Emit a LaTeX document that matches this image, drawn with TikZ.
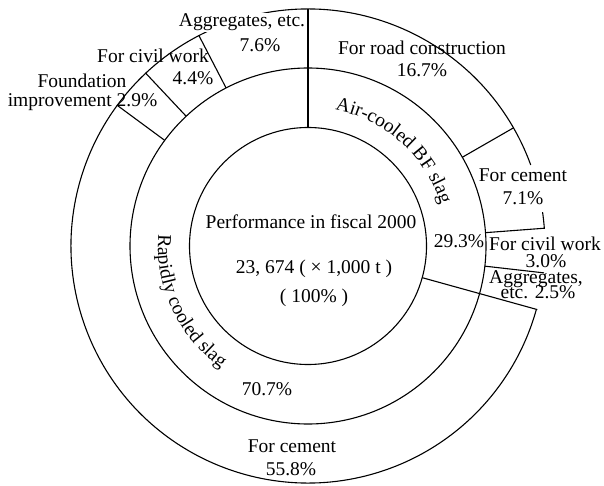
\documentclass[tikz,border=0pt]{standalone}
\usepackage{fontspec}
\setmainfont{Liberation Serif}
\usetikzlibrary{decorations.text}
\newcommand\lblfont{\fontsize{19.5}{22}\selectfont}
\begin{document}
\begin{tikzpicture}[x=1pt,y=1pt,line width=1.1pt,
  lbl/.style={font=\lblfont,inner sep=0pt,anchor=base},
  arcline/.style={line width=1.1pt}]
\useasboundingbox (0,0) rectangle (604,485);
\coordinate (C) at (308,239);
\begin{scope}[shift={(C)}]
  \draw[arcline] (0,0) circle[radius=118.5pt];
  \draw[arcline] (0,0) circle[radius=178pt];
  \draw[arcline] (20:237pt) arc[start angle=20,end angle=344.5,radius=237pt];
  \draw[arcline] (4.3:237pt) arc[start angle=4.3,end angle=8.2,radius=237pt];
  \draw[arcline] (90:118.5pt) -- (90:237pt);
  \draw[arcline] (-15.5:118.5pt) -- (-15.5:238pt);
  \foreach \a in {29.9,4.3,-6.5,143.6,133.2,117.4}
    \draw[arcline] (\a:178pt) -- (\a:237.5pt);
  \path[decorate,decoration={text along path,text={|\lblfont|Air-cooled BF slag},text align=center}]
    (100:139pt) arc[start angle=100,end angle=-4,radius=139pt];
  \path[decorate,decoration={text along path,text={|\lblfont|Rapidly cooled slag},text align=center}]
    (150:150pt) arc[start angle=150,end angle=260,radius=150pt];
\end{scope}
% left outer labels
\node[lbl,fill=white,inner sep=1pt] (agg1) at (242,458) {Aggregates, etc.};
\node[lbl] (agg2) at (260,433) {7.6\%};
\node[lbl] (civ1) at (153,422) {For civil work};
\node[lbl] (civ2) at (193,400) {4.4\%};
\node[lbl] (fou1) at (82,397) {Foundation};
\node[lbl] (fou2) at (82.5,378) {improvement 2.9\%};
% right outer labels
\node[lbl] (road1) at (422,430) {For road construction};
\node[lbl] (road2) at (422,408) {16.7\%};
\node[lbl] (cemr1) at (523,303) {For cement};
\node[lbl] (cemr2) at (523,280) {7.1\%};
\node[lbl] (civr1) at (545,235) {For civil work};
\node[lbl] (civr2) at (546,218) {3.0\%};
\node[lbl] (aggr1) at (536,202) {Aggregates,};
\node[lbl] (aggr2) at (538,187) {etc. 2.5\%};
% middle ring
\node[lbl] (air) at (459,238) {29.3\%};
\node[lbl] (rap) at (267,90) {70.7\%};
% bottom
\node[lbl] (cemb1) at (292,33) {For cement};
\node[lbl] (cemb2) at (291,10) {55.8\%};
% centre
\node[lbl] (perf) at (311,257) {Performance in fiscal 2000};
\node[lbl] (tot) at (314,212) {23, 674 ( × 1,000 t )};
\node[lbl] (pct) at (314,183) {( 100\% )};
\end{tikzpicture}
\end{document}
